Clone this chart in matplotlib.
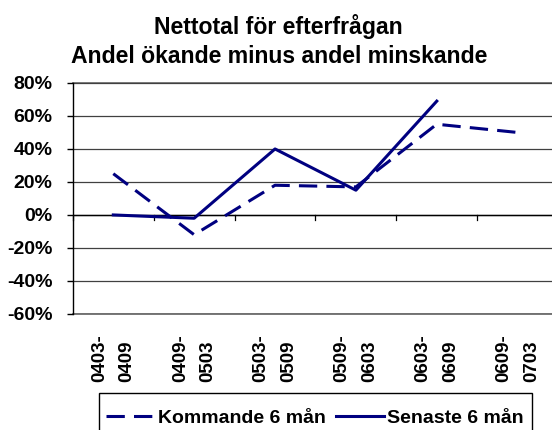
import numpy as np
import matplotlib
matplotlib.use('Agg')
import matplotlib.pyplot as plt
from matplotlib.patches import Rectangle
from matplotlib.ticker import FuncFormatter

periods = [('0403-', '0409'), ('0409-', '0503'), ('0503-', '0509'),
           ('0509-', '0603'), ('0603-', '0609'), ('0609-', '0703')]
kommande = [25, -12, 18, 17, 55, 50]
senaste = [0, -2, 40, 15, 69, None]

plt.rcParams['font.family'] = ['Liberation Sans', 'DejaVu Sans']
plt.rcParams['font.weight'] = 'bold'

W, H = 552, 430
fig = plt.figure(figsize=(W / 100, H / 100), dpi=100)
ax = fig.add_axes([0.132, 0.270, 0.879, 0.537])

x = np.arange(len(periods))
navy = '#000080'
ax.plot(x, kommande, color=navy, lw=2.2, ls=(0, (6, 3)),
        label='Kommande 6 mån')
sen = np.array([np.nan if v is None else v for v in senaste], dtype=float)
ax.plot(x, sen, color=navy, lw=2.2, label='Senaste 6 mån')

ax.set_xlim(-0.5, len(periods) - 0.5)
ax.set_ylim(-60, 80)
ax.set_yticks(np.arange(-60, 81, 20))
ax.yaxis.set_major_formatter(FuncFormatter(lambda v, p: '%d%%' % v))
ax.grid(axis='y', color='#404040', lw=0.9)
ax.axhline(-60, color='#606060', lw=1.2, clip_on=False, zorder=0)
ax.axhline(80, color='#606060', lw=1.2, clip_on=False, zorder=0)
ax.set_axisbelow(True)

for s in ['top', 'right', 'bottom']:
    ax.spines[s].set_visible(False)
ax.spines['left'].set_color('black')
ax.spines['left'].set_linewidth(1.0)

# category axis sits at zero
ax.axhline(0, color='black', lw=1.0, zorder=1)
for b in np.arange(len(periods) + 1) - 0.5:
    ax.plot([b, b], [0, -3], color='black', lw=0.9, clip_on=False, zorder=1)
ax.tick_params(axis='x', length=0, labelbottom=False)
ax.tick_params(axis='y', length=4.5, width=1.0, labelsize=14, pad=10)

# two-line rotated category labels, both lines starting at the same height
for i, (l1, l2) in enumerate(periods):
    for dx, s in ((-10, l1), (10, l2)):
        ax.annotate(s, xy=(i, -60), xycoords='data', xytext=(dx, -49),
                    textcoords='offset points', rotation=90, ha='center',
                    va='bottom', fontsize=13.5)

fig.text(0.505, 1 - 63 / H,
         'Nettotal för efterfrågan\nAndel ökande minus andel minskande',
         ha='center', va='baseline', fontsize=16.6, fontweight='bold',
         linespacing=1.35)

# legend box runs past the bottom edge, as in the original
fig.patches.append(Rectangle((99 / W, -0.05), (532 - 99) / W,
                             0.05 + 1 - 393 / H, transform=fig.transFigure,
                             fill=False, edgecolor='black', lw=1.0))
leg = fig.legend(loc='center left', bbox_to_anchor=(106 / W, 1 - 418 / H),
                 ncol=2, frameon=False, fontsize=14, handlelength=2.47,
                 columnspacing=0.5, handletextpad=0.2, borderpad=0,
                 borderaxespad=0)

fig.savefig('out.png', dpi=100)
